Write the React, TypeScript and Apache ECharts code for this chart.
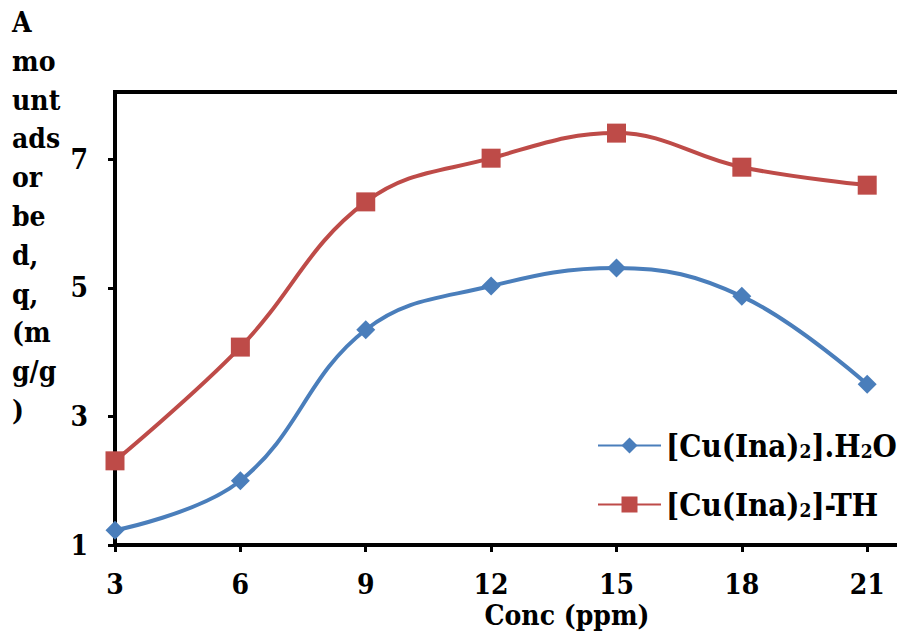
import React, { useEffect, useRef } from "react";
import * as echarts from "echarts";

const concentrations = [3, 6, 9, 12, 15, 18, 21];
const h2oValues = [1.23, 2.0, 4.35, 5.03, 5.31, 4.87, 3.5];
const thValues = [2.31, 4.08, 6.34, 7.02, 7.41, 6.88, 6.6];
const xTicks = [3, 6, 9, 12, 15, 18, 21];
const yTicks = [1, 3, 5, 7];
const seriesNames = ["[Cu(Ina)2].H2O", "[Cu(Ina)2]-TH"];
const yTitleLines = ["A", "mo", "unt", "ads", "or", "be", "d,", "q,", "(m", "g/g", ")"];
const xTitle = "Conc (ppm)";

const FONT = "DejaVu Serif Condensed, DejaVu Serif";

export default function App() {
  const ref = useRef<HTMLDivElement>(null);
  useEffect(() => {
    if (!ref.current) return;
    const chart = echarts.init(ref.current, null, { renderer: "svg" });
    const legendRich = {
      n: { fontFamily: FONT, fontWeight: "bold", fontSize: 31, color: "#000" },
      s: { fontFamily: FONT, fontWeight: "bold", fontSize: 19, color: "#000", padding: [11, 0, 0, 0] },
    };
    const labelStyle = { fontFamily: FONT, fontWeight: "bold", fontSize: 28, color: "#000" };
    chart.setOption({
      animation: false,
      backgroundColor: "#fff",
      grid: {
        left: 115,
        top: 92,
        bottom: 87,
        right: -12,
        outerBoundsMode: "none",
        containLabel: false,
        show: true,
        borderColor: "#000",
        borderWidth: 4,
        backgroundColor: "transparent",
      },
      xAxis: {
        type: "value",
        min: 3,
        max: 22,
        interval: 3,
        axisLine: { show: true, lineStyle: { color: "#000", width: 4 } },
        axisTick: { show: true, length: 7, inside: false, lineStyle: { color: "#000", width: 3 }, customValues: xTicks },
        axisLabel: { customValues: xTicks, margin: 25, ...labelStyle },
        splitLine: { show: false },
      },
      yAxis: {
        type: "value",
        min: 1,
        max: 8.05,
        interval: 2,
        axisLine: { show: true, lineStyle: { color: "#000", width: 4 } },
        axisTick: { show: true, length: 7, lineStyle: { color: "#000", width: 3 }, customValues: yTicks },
        axisLabel: { customValues: yTicks, margin: 27, ...labelStyle },
        splitLine: { show: false },
      },
      legend: {
        orient: "vertical",
        left: 597,
        top: 430,
        itemWidth: 63,
        itemHeight: 20,
        itemGap: 28,
        padding: 0,
        backgroundColor: "transparent",
        textStyle: { ...labelStyle, fontSize: 31, rich: legendRich },
        formatter: (name: string) =>
          name === seriesNames[0]
            ? "{n|[Cu(Ina)}{s|2}{n|].H}{s|2}{n|O}"
            : "{n|[Cu(Ina)}{s|2}{n|]-TH}",
        data: seriesNames,
      },
      graphic: [
        {
          type: "text",
          left: 12,
          top: 3,
          style: {
            text: yTitleLines.join("\n"),
            fontFamily: FONT,
            fontWeight: "bold",
            fontSize: 28,
            lineHeight: 38.8,
            fill: "#000",
          },
        },
        {
          type: "text",
          x: 567,
          y: 615,
          style: {
            text: xTitle,
            fontFamily: FONT,
            fontWeight: "bold",
            fontSize: 28,
            fill: "#000",
            textAlign: "center",
            textVerticalAlign: "middle",
          },
        },
      ],
      series: [
        {
          name: seriesNames[0],
          type: "line",
          smooth: 0.4,
          data: concentrations.map((c, i) => [c, h2oValues[i]]),
          symbol: "diamond",
          symbolSize: 19,
          lineStyle: { color: "#4a7ebb", width: 4 },
          itemStyle: { color: "#4a7ebb" },
          z: 3,
        },
        {
          name: seriesNames[1],
          type: "line",
          smooth: 0.4,
          data: concentrations.map((c, i) => [c, thValues[i]]),
          symbol: "rect",
          symbolSize: 19,
          lineStyle: { color: "#be4b48", width: 4 },
          itemStyle: { color: "#be4b48" },
          z: 3,
        },
      ],
    });
    return () => chart.dispose();
  }, []);
  return (
    <div
      ref={ref}
      style={{ position: "fixed", left: 0, top: 0, width: 897, height: 632, background: "#fff" }}
    />
  );
}
